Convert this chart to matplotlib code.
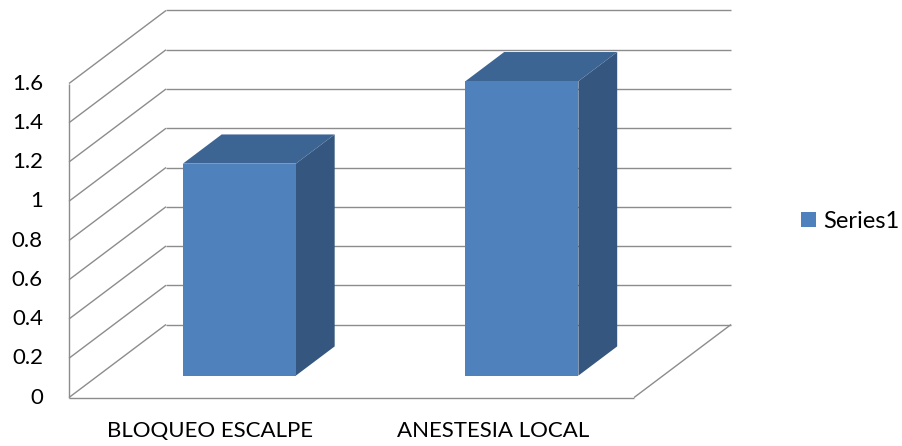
import matplotlib
matplotlib.use("Agg")
import matplotlib.pyplot as plt
from matplotlib.patches import Polygon, Patch

# data
categories = ["BLOQUEO ESCALPE", "ANESTESIA LOCAL"]
values = [1.08, 1.5]
series_name = "Series1"
y_ticks = [0, 0.2, 0.4, 0.6, 0.8, 1, 1.2, 1.4, 1.6]
y_tick_labels = ["0", "0.2", "0.4", "0.6", "0.8", "1", "1.2", "1.4", "1.6"]

# oblique projection: depth d in [0, 1] shifts points right and up
DX = 0.3434
DY = 0.372

GRID = "#8c8c8c"
FRONT = "#4F81BD"
TOP = "#3D6594"
SIDE = "#34567F"
FONT = "Lato"


def proj(x, y, d):
    return (x + d * DX, y + d * DY)


def line3(ax, p0, p1, **kw):
    a = proj(*p0)
    b = proj(*p1)
    ax.plot([a[0], b[0]], [a[1], b[1]], color=GRID, lw=1.0,
            solid_capstyle="butt", zorder=1, **kw)


fig = plt.figure(figsize=(9.03, 4.46), dpi=100)
ax = fig.add_axes([0, 0, 1, 1])
ax.set_xlim(-0.2442, 2.952)
ax.set_ylim(-0.2471, 2.0255)
ax.axis("off")

n = len(categories)
top = y_ticks[-1]

# walls and floor
line3(ax, (0, 0, 0), (0, top, 0))
for t in y_ticks:
    line3(ax, (0, t, 0), (0, t, 1))
    line3(ax, (0, t, 1), (n, t, 1))
line3(ax, (0, 0, 0), (n, 0, 0))
line3(ax, (n, 0, 0), (n, 0, 1))

# bars
width = 0.4
d0, d1 = 0.30, 0.70
for i, v in enumerate(values):
    x0 = i + 0.5 - width / 2
    x1 = i + 0.5 + width / 2
    front = [proj(x0, 0, d0), proj(x1, 0, d0), proj(x1, v, d0), proj(x0, v, d0)]
    topf = [proj(x0, v, d0), proj(x1, v, d0), proj(x1, v, d1), proj(x0, v, d1)]
    side = [proj(x1, 0, d0), proj(x1, 0, d1), proj(x1, v, d1), proj(x1, v, d0)]
    ax.add_patch(Polygon(side, closed=True, fc=SIDE, ec="none", zorder=3))
    ax.add_patch(Polygon(topf, closed=True, fc=TOP, ec="none", zorder=3))
    ax.add_patch(Polygon(front, closed=True, fc=FRONT, ec="none", zorder=4))

# tick labels
for t, lab in zip(y_ticks, y_tick_labels):
    ax.text(-0.092, t, lab, ha="right", va="center", fontsize=16,
            family=FONT, color="#000000")

for i, c in enumerate(categories):
    ax.text(i + 0.5, -0.171, c, ha="center", va="center", fontsize=16,
            family=FONT, color="#000000")

# legend
handle = Patch(facecolor=FRONT, edgecolor="none")
ax.legend([handle], [series_name], loc="center left",
          bbox_to_anchor=(801 / 903, 1 - 221 / 446), frameon=False,
          prop={"family": FONT, "size": 17}, handlelength=0.64,
          handleheight=0.62, handletextpad=0.28, borderpad=0,
          borderaxespad=0)

fig.savefig("out.png", dpi=100)
